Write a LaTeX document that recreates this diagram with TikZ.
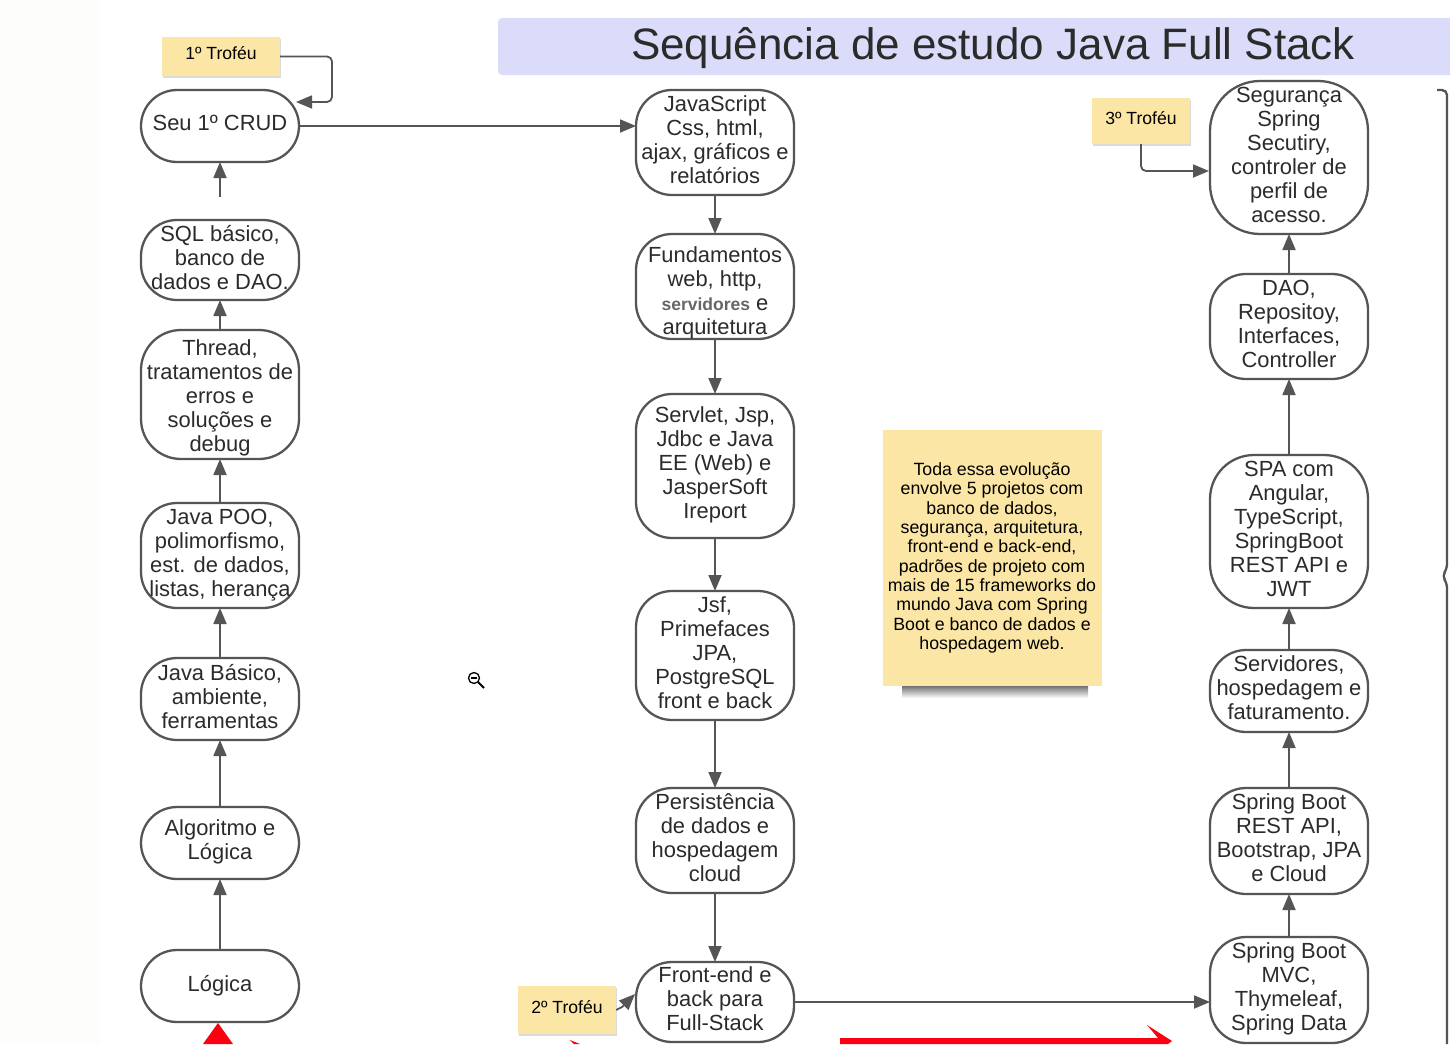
\documentclass[tikz,border=0pt]{standalone}
\usepackage{fontspec}
\setmainfont{Liberation Sans}
\usetikzlibrary{arrows.meta,positioning,shadows}
\definecolor{linegray}{HTML}{555555}
\definecolor{textgray}{HTML}{2B2B2B}
\definecolor{noteyellow}{HTML}{FBE6A6}
\definecolor{bannerblue}{HTML}{DBDCF9}
\definecolor{markred}{HTML}{FA0010}
\definecolor{leftwash}{HTML}{FDFDFB}
\begin{document}
\begin{tikzpicture}[x=1pt,y=-1pt]
\tikzstyle{stepbox}=[draw=linegray,line width=2.3pt,fill=white,rounded corners=36pt,inner sep=0pt,outer sep=0pt,minimum width=158pt,align=center,text=textgray,text depth=6pt,font=\fontsize{21.9}{24}\selectfont]
\tikzstyle{trophy}=[fill=noteyellow,inner sep=0pt,align=center,text=black,text depth=6.3pt,font=\fontsize{17.6}{19.4}\selectfont,drop shadow={shadow xshift=1pt,shadow yshift=-2pt,opacity=.14,fill=black}]
\tikzstyle{arrow}=[line width=1.8pt,color=linegray,->,>={Triangle[length=16pt,width=13pt]}]
\useasboundingbox (0,0) rectangle (1450,1044);
\fill [white] (0,0) rectangle (1450,1044);
\fill [leftwash] (0,0) rectangle (100,1044);
% title
\node [fill=bannerblue,rounded corners=4pt,inner sep=0pt,minimum width=990pt,minimum height=57pt,text=textgray,text height=36pt,text depth=9.2pt,font=\fontsize{44}{48}\selectfont] at (993,46.5) (title) {Sequência de estudo Java Full Stack};
% left column
\node [stepbox,minimum height=72pt] at (220,986) (logica) {Lógica};
\node [stepbox,minimum height=72pt] at (220,843) (algoritmo) {Algoritmo e\\Lógica};
\node [stepbox,minimum height=82pt] at (220,699) (javabasico) {Java Básico,\\ambiente,\\ferramentas};
\node [stepbox,minimum height=105pt] at (220,555.5) (javapoo) {Java POO,\\polimorfismo,\\est. de dados,\\listas, herança};
\node [stepbox,minimum height=129pt,text height=113.5pt,text depth=0pt,rounded corners=40pt] at (220,394.5) (thread) {Thread,\\tratamentos de\\erros e\\soluções e\\debug};
\node [stepbox,minimum height=80pt] at (220,260) (sqlbasico) {SQL básico,\\banco de\\dados e DAO.};
\node [stepbox,minimum height=72pt] at (220,126) (crud) {Seu 1º CRUD};
% middle column
\node [stepbox,minimum height=105pt] at (715,142.5) (javascript) {JavaScript\\Css, html,\\ajax, gráficos e\\relatórios};
\node [stepbox,minimum height=105pt,text height=95pt,text depth=0pt] at (715,286.5) (fundamentos) {Fundamentos\\web, http,\\{\fontsize{17.5}{24}\selectfont\bfseries\color{linegray!90}servidores} e\\arquitetura};
\node [stepbox,minimum height=144pt] at (715,466) (servlet) {Servlet, Jsp,\\Jdbc e Java\\EE (Web) e\\JasperSoft\\Ireport};
\node [stepbox,minimum height=129pt] at (715,655.5) (jsf) {Jsf,\\Primefaces\\JPA,\\PostgreSQL\\front e back};
\node [stepbox,minimum height=105pt] at (715,840.5) (persistencia) {Persistência\\de dados e\\hospedagem\\cloud};
\node [stepbox,minimum height=80pt] at (715,1002) (frontend) {Front-end e\\back para\\Full-Stack};
% right column
\node [stepbox,minimum height=106pt] at (1289,990) (mvc) {Spring Boot\\MVC,\\Thymeleaf,\\Spring Data};
\node [stepbox,minimum height=106pt] at (1289,841) (restapi) {Spring Boot\\REST API,\\Bootstrap, JPA\\e Cloud};
\node [stepbox,minimum height=82pt] at (1289,691) (servidores) {Servidores,\\hospedagem e\\faturamento.};
\node [stepbox,minimum height=153pt,rounded corners=44pt] at (1289,531.5) (spa) {SPA com\\Angular,\\TypeScript,\\SpringBoot\\REST API e\\JWT};
\node [stepbox,minimum height=105pt] at (1289,326.5) (dao) {DAO,\\Repositoy,\\Interfaces,\\Controller};
\node [stepbox,minimum height=153pt,rounded corners=50pt] at (1289,157.5) (seguranca) {Segurança\\Spring\\Secutiry,\\controler de\\perfil de\\acesso.};
% notes
\node [trophy,minimum width=118pt,minimum height=39pt] at (221,56.5) (trofeu1) {1º Troféu};
\node [trophy,minimum width=98pt,minimum height=48pt] at (567,1010) (trofeu2) {2º Troféu};
\node [trophy,minimum width=98pt,minimum height=46pt] at (1141,121) (trofeu3) {3º Troféu};
\shade [top color=black!55,bottom color=white] (902,686) rectangle (1088,698);
\node [fill=noteyellow,inner sep=0pt,minimum width=219pt,minimum height=256pt,align=center,text=black,font=\fontsize{17.75}{19.35}\selectfont] at (992,558) (evolucao) {Toda essa evolução\\envolve 5 projetos com\\banco de dados,\\segurança, arquitetura,\\front-end e back-end,\\padrões de projeto com\\mais de 15 frameworks do\\mundo Java com Spring\\Boot e banco de dados e\\hospedagem web.};
% free ends of the connectors
\coordinate (sqlup) at (220,197);
\coordinate (crudin) at (296,102);
\coordinate (frontin) at (635,994);
\coordinate (seguin) at (1209,171);
% arrows
\draw [arrow] (logica) edge (algoritmo);
\draw [arrow] (algoritmo) edge (javabasico);
\draw [arrow] (javabasico) edge (javapoo);
\draw [arrow] (javapoo) edge (thread);
\draw [arrow] (thread) edge (sqlbasico);
\draw [arrow] (sqlup) -- (crud);
\draw [arrow] (crud.east) -- (javascript.west |- crud.east);
\draw [arrow] (javascript) edge (fundamentos);
\draw [arrow] (fundamentos) edge (servlet);
\draw [arrow] (servlet) edge (jsf);
\draw [arrow] (jsf) edge (persistencia);
\draw [arrow] (persistencia) edge (frontend);
\draw [arrow] (frontend.east) -- (mvc.west |- frontend.east);
\draw [arrow] (mvc) edge (restapi);
\draw [arrow] (restapi) edge (servidores);
\draw [arrow] (servidores) edge (spa);
\draw [arrow] (spa) edge (dao);
\draw [arrow] (dao) edge (seguranca);
\draw [arrow,rounded corners=5pt] (trofeu1.east) -- (332,56.5) -- (332,102) -- (crudin);
\draw [arrow] (trofeu2.east) -- (622,1007) -- (frontin);
\draw [arrow,rounded corners=5pt] (trofeu3.south) -- (1141,171) -- (seguin);
% red marks at the bottom
\fill [markred] (218,1023) -- (233,1044) -- (203,1044) -- cycle;
\fill [markred] (570,1040) -- (580,1044) -- (574,1044) -- cycle;
\fill [markred] (840,1038) -- (1158,1038) -- (1147,1025) -- (1172,1041) -- (1168,1044) -- (840,1044) -- cycle;
% brace at the right edge
\draw [linegray,line width=2.3pt,rounded corners=5pt] (1437,90) -- (1447,90) -- (1447,569) -- (1442,576) -- (1447,583) -- (1447,1044);
% zoom cursor
\draw [black,line width=1.3pt,fill=white] (474,678) circle (5.5);
\draw [black,line width=1.2pt] (471,678) -- (477,678);
\draw [black,line width=2pt] (478,682) -- (484,688);
\end{tikzpicture}
\end{document}
